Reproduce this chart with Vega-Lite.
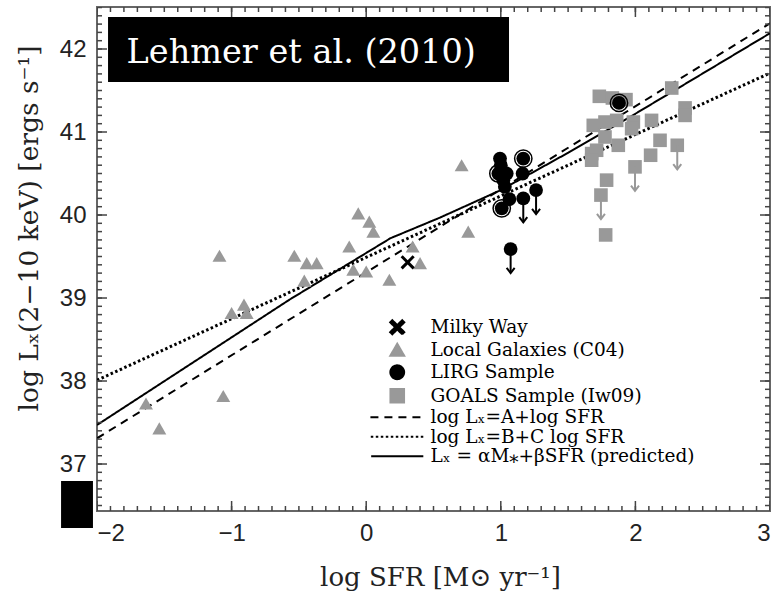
{
  "$schema": "https://vega.github.io/schema/vega-lite/v6.json",
  "width": 673,
  "height": 504,
  "autosize": {"type": "none"},
  "padding": {"left": 97, "top": 7, "right": 5, "bottom": 86},
  "background": "white",
  "datasets": {
    "xt": [{"v": -2}, {"v": -1.9}, {"v": -1.8}, {"v": -1.7}, {"v": -1.6}, {"v": -1.5}, {"v": -1.4}, {"v": -1.3}, {"v": -1.2}, {"v": -1.1},
      {"v": -1}, {"v": -0.9}, {"v": -0.8}, {"v": -0.7}, {"v": -0.6}, {"v": -0.5}, {"v": -0.4}, {"v": -0.3}, {"v": -0.2}, {"v": -0.1},
      {"v": 0}, {"v": 0.1}, {"v": 0.2}, {"v": 0.3}, {"v": 0.4}, {"v": 0.5}, {"v": 0.6}, {"v": 0.7}, {"v": 0.8}, {"v": 0.9},
      {"v": 1}, {"v": 1.1}, {"v": 1.2}, {"v": 1.3}, {"v": 1.4}, {"v": 1.5}, {"v": 1.6}, {"v": 1.7}, {"v": 1.8}, {"v": 1.9},
      {"v": 2}, {"v": 2.1}, {"v": 2.2}, {"v": 2.3}, {"v": 2.4}, {"v": 2.5}, {"v": 2.6}, {"v": 2.7}, {"v": 2.8}, {"v": 2.9}, {"v": 3}],
    "yt": [{"v": 36.5}, {"v": 36.6}, {"v": 36.7}, {"v": 36.8}, {"v": 36.9},
      {"v": 37}, {"v": 37.1}, {"v": 37.2}, {"v": 37.3}, {"v": 37.4}, {"v": 37.5}, {"v": 37.6}, {"v": 37.7}, {"v": 37.8}, {"v": 37.9},
      {"v": 38}, {"v": 38.1}, {"v": 38.2}, {"v": 38.3}, {"v": 38.4}, {"v": 38.5}, {"v": 38.6}, {"v": 38.7}, {"v": 38.8}, {"v": 38.9},
      {"v": 39}, {"v": 39.1}, {"v": 39.2}, {"v": 39.3}, {"v": 39.4}, {"v": 39.5}, {"v": 39.6}, {"v": 39.7}, {"v": 39.8}, {"v": 39.9},
      {"v": 40}, {"v": 40.1}, {"v": 40.2}, {"v": 40.3}, {"v": 40.4}, {"v": 40.5}, {"v": 40.6}, {"v": 40.7}, {"v": 40.8}, {"v": 40.9},
      {"v": 41}, {"v": 41.1}, {"v": 41.2}, {"v": 41.3}, {"v": 41.4}, {"v": 41.5}, {"v": 41.6}, {"v": 41.7}, {"v": 41.8}, {"v": 41.9},
      {"v": 42}, {"v": 42.1}, {"v": 42.2}, {"v": 42.3}, {"v": 42.4}, {"v": 42.5}],
    "lines": [
      {"s": "log Lₓ=A+log SFR", "x": -2, "y": 37.31},
      {"s": "log Lₓ=A+log SFR", "x": 3, "y": 42.31},
      {"s": "log Lₓ=B+C log SFR", "x": -2, "y": 38.01},
      {"s": "log Lₓ=B+C log SFR", "x": 3, "y": 41.71},
      {"s": "Lₓ = αM⁎+βSFR (predicted)", "x": -2, "y": 37.47},
      {"s": "Lₓ = αM⁎+βSFR (predicted)", "x": -0.57, "y": 38.98},
      {"s": "Lₓ = αM⁎+βSFR (predicted)", "x": 0.18, "y": 39.72},
      {"s": "Lₓ = αM⁎+βSFR (predicted)", "x": 0.55, "y": 39.97},
      {"s": "Lₓ = αM⁎+βSFR (predicted)", "x": 1.0, "y": 40.3},
      {"s": "Lₓ = αM⁎+βSFR (predicted)", "x": 1.5, "y": 40.75},
      {"s": "Lₓ = αM⁎+βSFR (predicted)", "x": 2.0, "y": 41.22},
      {"s": "Lₓ = αM⁎+βSFR (predicted)", "x": 3.0, "y": 42.19}
    ],
    "points": [
      {"s": "Local Galaxies (C04)", "x": -1.09, "y": 39.51},
      {"s": "Local Galaxies (C04)", "x": -0.534, "y": 39.51},
      {"s": "Local Galaxies (C04)", "x": -0.442, "y": 39.42},
      {"s": "Local Galaxies (C04)", "x": -0.368, "y": 39.42},
      {"s": "Local Galaxies (C04)", "x": -0.46, "y": 39.21},
      {"s": "Local Galaxies (C04)", "x": -0.059, "y": 40.02},
      {"s": "Local Galaxies (C04)", "x": 0.023, "y": 39.92},
      {"s": "Local Galaxies (C04)", "x": 0.053, "y": 39.8},
      {"s": "Local Galaxies (C04)", "x": -0.126, "y": 39.62},
      {"s": "Local Galaxies (C04)", "x": -0.096, "y": 39.34},
      {"s": "Local Galaxies (C04)", "x": 0.0, "y": 39.32},
      {"s": "Local Galaxies (C04)", "x": 0.172, "y": 39.22},
      {"s": "Local Galaxies (C04)", "x": 0.345, "y": 39.62},
      {"s": "Local Galaxies (C04)", "x": 0.4, "y": 39.42},
      {"s": "Local Galaxies (C04)", "x": -1.0, "y": 38.82},
      {"s": "Local Galaxies (C04)", "x": -0.908, "y": 38.92},
      {"s": "Local Galaxies (C04)", "x": -0.888, "y": 38.82},
      {"s": "Local Galaxies (C04)", "x": -1.636, "y": 37.73},
      {"s": "Local Galaxies (C04)", "x": -1.537, "y": 37.43},
      {"s": "Local Galaxies (C04)", "x": -1.062, "y": 37.82},
      {"s": "Local Galaxies (C04)", "x": 0.709, "y": 40.6},
      {"s": "Local Galaxies (C04)", "x": 0.758, "y": 39.8},
      {"s": "GOALS Sample (Iw09)", "x": 1.732, "y": 41.43},
      {"s": "GOALS Sample (Iw09)", "x": 1.829, "y": 41.41},
      {"s": "GOALS Sample (Iw09)", "x": 1.93, "y": 41.39},
      {"s": "GOALS Sample (Iw09)", "x": 2.27, "y": 41.53},
      {"s": "GOALS Sample (Iw09)", "x": 2.369, "y": 41.29},
      {"s": "GOALS Sample (Iw09)", "x": 2.369, "y": 41.2},
      {"s": "GOALS Sample (Iw09)", "x": 1.687, "y": 41.08},
      {"s": "GOALS Sample (Iw09)", "x": 1.774, "y": 41.12},
      {"s": "GOALS Sample (Iw09)", "x": 1.861, "y": 41.14},
      {"s": "GOALS Sample (Iw09)", "x": 1.985, "y": 41.12},
      {"s": "GOALS Sample (Iw09)", "x": 2.12, "y": 41.14},
      {"s": "GOALS Sample (Iw09)", "x": 1.774, "y": 40.94},
      {"s": "GOALS Sample (Iw09)", "x": 1.972, "y": 41.04},
      {"s": "GOALS Sample (Iw09)", "x": 1.873, "y": 40.84},
      {"s": "GOALS Sample (Iw09)", "x": 2.183, "y": 40.9},
      {"s": "GOALS Sample (Iw09)", "x": 1.675, "y": 40.74},
      {"s": "GOALS Sample (Iw09)", "x": 1.712, "y": 40.78},
      {"s": "GOALS Sample (Iw09)", "x": 1.675, "y": 40.66},
      {"s": "GOALS Sample (Iw09)", "x": 2.113, "y": 40.72},
      {"s": "GOALS Sample (Iw09)", "x": 2.311, "y": 40.84, "lim": true},
      {"s": "GOALS Sample (Iw09)", "x": 1.997, "y": 40.58, "lim": true},
      {"s": "GOALS Sample (Iw09)", "x": 1.786, "y": 40.42},
      {"s": "GOALS Sample (Iw09)", "x": 1.744, "y": 40.24, "lim": true},
      {"s": "GOALS Sample (Iw09)", "x": 1.779, "y": 39.76},
      {"s": "Milky Way", "x": 0.308, "y": 39.43},
      {"s": "LIRG Sample", "x": 0.994, "y": 40.68},
      {"s": "LIRG Sample", "x": 1.0, "y": 40.6},
      {"s": "LIRG Sample", "x": 0.982, "y": 40.5, "ring": true},
      {"s": "LIRG Sample", "x": 1.044, "y": 40.5},
      {"s": "LIRG Sample", "x": 1.019, "y": 40.42},
      {"s": "LIRG Sample", "x": 1.03, "y": 40.34},
      {"s": "LIRG Sample", "x": 1.064, "y": 40.19},
      {"s": "LIRG Sample", "x": 1.007, "y": 40.08, "ring": true},
      {"s": "LIRG Sample", "x": 1.167, "y": 40.68, "ring": true},
      {"s": "LIRG Sample", "x": 1.162, "y": 40.5},
      {"s": "LIRG Sample", "x": 1.167, "y": 40.2, "lim": true},
      {"s": "LIRG Sample", "x": 1.262, "y": 40.3, "lim": true},
      {"s": "LIRG Sample", "x": 1.073, "y": 39.59, "lim": true},
      {"s": "LIRG Sample", "x": 1.878, "y": 41.35, "ring": true}
    ],
    "boxes": [
      {"x": -1.918, "x2": 1.061, "y": 42.386, "y2": 41.602},
      {"x": -2.267, "x2": -2.03, "y": 36.795, "y2": 36.229}
    ],
    "labels": [
      {"x": -1.78, "y": 41.83, "text": "Lehmer et al. (2010)"}
    ]
  },
  "resolve": {"axis": {"x": "independent", "y": "independent"}},
  "layer": [
    {
      "data": {"name": "lines"},
      "transform": [{"filter": "datum.s != 'log Lₓ=B+C log SFR'"}],
      "mark": {"type": "line", "strokeWidth": 2, "clip": true},
      "encoding": {
        "x": {"field": "x", "type": "quantitative", "scale": {"domain": [-2, 3], "nice": false, "zero": false},
          "axis": {"orient": "bottom", "values": [-2, -1, 0, 1, 2, 3], "ticks": false, "grid": false, "labelPadding": 10, "format": "d",
            "title": "log SFR [M⊙ yr⁻¹]", "titleX": 343, "titleY": 66, "titleBaseline": "middle", "titleAlign": "center"}},
        "y": {"field": "y", "type": "quantitative", "scale": {"domain": [36.434, 42.506], "nice": false, "zero": false},
          "axis": {"orient": "left", "values": [37, 38, 39, 40, 41, 42], "ticks": false, "grid": false, "labelPadding": 11, "format": "d",
            "title": "log Lₓ(2−10 keV) [ergs s⁻¹]", "titleX": -68, "titleY": 221, "titleAngle": -90, "titleBaseline": "middle", "titleAlign": "center", "titleFontSize": 26.5}},
        "color": {"field": "s", "type": "nominal",
          "scale": {"domain": ["Milky Way", "Local Galaxies (C04)", "LIRG Sample", "GOALS Sample (Iw09)", "log Lₓ=A+log SFR", "log Lₓ=B+C log SFR", "Lₓ = αM⁎+βSFR (predicted)"],
            "range": ["#000000", "#999999", "#000000", "#999999", "#000000", "#000000", "#000000"]},
          "legend": {"orient": "none", "legendX": 291, "legendY": 311, "title": null,
            "labelFont": "DejaVu Serif", "labelFontSize": 18.5, "labelColor": "#000", "labelOffset": 24, "labelLimit": 0,
            "rowPadding": 0.5, "symbolStrokeWidth": 2, "symbolOpacity": 1}},
        "strokeDash": {"field": "s", "type": "nominal",
          "scale": {"domain": ["Milky Way", "Local Galaxies (C04)", "LIRG Sample", "GOALS Sample (Iw09)", "log Lₓ=A+log SFR", "log Lₓ=B+C log SFR", "Lₓ = αM⁎+βSFR (predicted)"],
            "range": [[1, 0], [1, 0], [1, 0], [1, 0], [8, 6], [2.5, 2.5], [1, 0]]}}
      }
    },
    {
      "data": {"name": "lines"},
      "transform": [{"filter": "datum.s == 'log Lₓ=B+C log SFR'"}],
      "mark": {"type": "line", "strokeWidth": 3, "clip": true},
      "encoding": {
        "x": {"field": "x", "type": "quantitative", "axis": null},
        "y": {"field": "y", "type": "quantitative", "axis": null},
        "color": {"field": "s", "type": "nominal"},
        "strokeDash": {"field": "s", "type": "nominal"}
      }
    },
    {
      "data": {"name": "xt"},
      "mark": {"type": "tick", "orient": "vertical", "color": "#444444", "thickness": 1.5, "size": 10, "clip": true, "opacity": 1},
      "encoding": {
        "x": {"field": "v", "type": "quantitative", "axis": null},
        "y": {"datum": 36.434, "type": "quantitative", "axis": null}
      }
    },
    {
      "data": {"name": "xt"},
      "mark": {"type": "tick", "orient": "vertical", "color": "#444444", "thickness": 1.5, "size": 10, "clip": true, "opacity": 1},
      "encoding": {
        "x": {"field": "v", "type": "quantitative", "axis": null},
        "y": {"datum": 42.506, "type": "quantitative", "axis": null}
      }
    },
    {
      "data": {"name": "xt"},
      "transform": [{"filter": "datum.v == round(datum.v)"}],
      "mark": {"type": "tick", "orient": "vertical", "color": "#444444", "thickness": 1.5, "size": 20, "clip": true, "opacity": 1},
      "encoding": {
        "x": {"field": "v", "type": "quantitative", "axis": null},
        "y": {"datum": 36.434, "type": "quantitative", "axis": null}
      }
    },
    {
      "data": {"name": "xt"},
      "transform": [{"filter": "datum.v == round(datum.v)"}],
      "mark": {"type": "tick", "orient": "vertical", "color": "#444444", "thickness": 1.5, "size": 20, "clip": true, "opacity": 1},
      "encoding": {
        "x": {"field": "v", "type": "quantitative", "axis": null},
        "y": {"datum": 42.506, "type": "quantitative", "axis": null}
      }
    },
    {
      "data": {"name": "yt"},
      "mark": {"type": "tick", "orient": "horizontal", "color": "#444444", "thickness": 1.5, "size": 10, "clip": true, "opacity": 1},
      "encoding": {
        "y": {"field": "v", "type": "quantitative", "axis": null},
        "x": {"datum": -2, "type": "quantitative", "axis": null}
      }
    },
    {
      "data": {"name": "yt"},
      "mark": {"type": "tick", "orient": "horizontal", "color": "#444444", "thickness": 1.5, "size": 10, "clip": true, "opacity": 1},
      "encoding": {
        "y": {"field": "v", "type": "quantitative", "axis": null},
        "x": {"datum": 3, "type": "quantitative", "axis": null}
      }
    },
    {
      "data": {"name": "yt"},
      "transform": [{"filter": "datum.v == round(datum.v)"}],
      "mark": {"type": "tick", "orient": "horizontal", "color": "#444444", "thickness": 1.5, "size": 20, "clip": true, "opacity": 1},
      "encoding": {
        "y": {"field": "v", "type": "quantitative", "axis": null},
        "x": {"datum": -2, "type": "quantitative", "axis": null}
      }
    },
    {
      "data": {"name": "yt"},
      "transform": [{"filter": "datum.v == round(datum.v)"}],
      "mark": {"type": "tick", "orient": "horizontal", "color": "#444444", "thickness": 1.5, "size": 20, "clip": true, "opacity": 1},
      "encoding": {
        "y": {"field": "v", "type": "quantitative", "axis": null},
        "x": {"datum": 3, "type": "quantitative", "axis": null}
      }
    },
    {
      "data": {"name": "points"},
      "mark": {"type": "point", "filled": true, "opacity": 1},
      "encoding": {
        "x": {"field": "x", "type": "quantitative", "axis": null},
        "y": {"field": "y", "type": "quantitative", "axis": null},
        "color": {"field": "s", "type": "nominal"},
        "shape": {"field": "s", "type": "nominal",
          "scale": {"domain": ["Milky Way", "Local Galaxies (C04)", "LIRG Sample", "GOALS Sample (Iw09)", "log Lₓ=A+log SFR", "log Lₓ=B+C log SFR", "Lₓ = αM⁎+βSFR (predicted)"],
            "range": ["M-1,-0.7L-0.7,-1L0,-0.3L0.7,-1L1,-0.7L0.3,0L1,0.7L0.7,1L0,0.3L-0.7,1L-1,0.7L-0.3,0Z", "triangle-up", "circle", "square", "M-4,0H4", "M-4,0H4", "M-4,0H4"]}},
        "size": {"field": "s", "type": "nominal",
          "scale": {"domain": ["Milky Way", "Local Galaxies (C04)", "LIRG Sample", "GOALS Sample (Iw09)", "log Lₓ=A+log SFR", "log Lₓ=B+C log SFR", "Lₓ = αM⁎+βSFR (predicted)"],
            "range": [200, 170, 80, 190, 144, 144, 144]}}
      }
    },
    {
      "data": {"name": "points"},
      "transform": [{"filter": "datum.ring"}],
      "mark": {"type": "point", "shape": "circle", "filled": false, "size": 300, "strokeWidth": 1.5, "color": "#000", "opacity": 1},
      "encoding": {
        "x": {"field": "x", "type": "quantitative", "axis": null},
        "y": {"field": "y", "type": "quantitative", "axis": null}
      }
    },
    {
      "data": {"name": "points"},
      "transform": [{"filter": "datum.lim"}],
      "mark": {"type": "rule", "strokeWidth": 2, "y2Offset": 24},
      "encoding": {
        "x": {"field": "x", "type": "quantitative", "axis": null},
        "y": {"field": "y", "type": "quantitative", "axis": null},
        "y2": {"field": "y"},
        "color": {"field": "s", "type": "nominal", "legend": null}
      }
    },
    {
      "data": {"name": "points"},
      "transform": [{"filter": "datum.lim"}],
      "mark": {"type": "point", "shape": "M-1,-1.3L0,0L1,-1.3", "filled": false, "size": 64, "strokeWidth": 2, "yOffset": 24, "opacity": 1},
      "encoding": {
        "x": {"field": "x", "type": "quantitative", "axis": null},
        "y": {"field": "y", "type": "quantitative", "axis": null},
        "color": {"field": "s", "type": "nominal", "legend": null}
      }
    },
    {
      "data": {"name": "boxes"},
      "mark": {"type": "rect", "color": "#000", "opacity": 1},
      "encoding": {
        "x": {"field": "x", "type": "quantitative", "axis": null},
        "x2": {"field": "x2"},
        "y": {"field": "y", "type": "quantitative", "axis": null},
        "y2": {"field": "y2"}
      }
    },
    {
      "data": {"name": "labels"},
      "mark": {"type": "text", "font": "DejaVu Serif", "fontSize": 33.5, "color": "#fff", "align": "left", "baseline": "alphabetic"},
      "encoding": {
        "x": {"field": "x", "type": "quantitative", "axis": null},
        "y": {"field": "y", "type": "quantitative", "axis": null},
        "text": {"field": "text"}
      }
    }
  ],
  "config": {
    "view": {"stroke": "#666", "strokeWidth": 2},
    "axis": {"domain": false, "grid": false, "labelFont": "Liberation Sans", "labelFontSize": 24, "labelColor": "#222",
      "titleFont": "DejaVu Serif", "titleFontSize": 26, "titleFontWeight": "normal", "titleColor": "#222"}
  }
}
